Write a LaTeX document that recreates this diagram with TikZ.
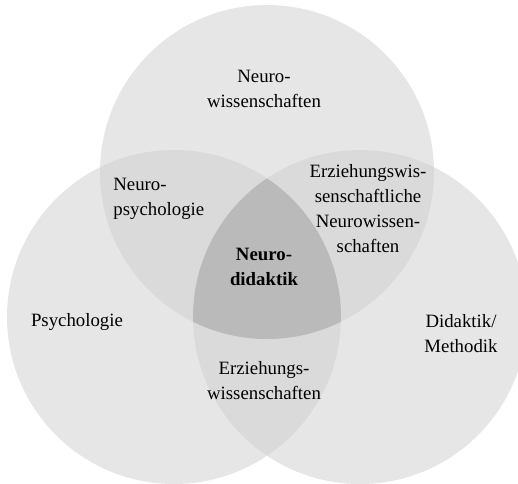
\documentclass[tikz,border=0pt]{standalone}
\usepackage{fontspec}
\setmainfont{Liberation Serif}
\usepackage{tikz}
\usetikzlibrary{positioning}

\definecolor{onegray}{HTML}{E6E6E6}
\definecolor{twogray}{HTML}{DADADA}
\definecolor{threegray}{HTML}{BABABA}

\begin{document}
\begin{tikzpicture}[
    x = .5pt,
    y = -.5pt,
    font = \fontsize{9.4}{12.5}\selectfont,
    venntext/.style = {
      align=center,
      inner sep=0pt,
      text=black
    },
    venncore/.style = {
      venntext,
      font=\fontsize{9.4}{12.5}\selectfont\bfseries
    }
  ]
    \useasboundingbox (0,0) rectangle (518,483);
    \clip (0,0) rectangle (518,483);
    \coordinate (neuro) at (267,172);
    \coordinate (psych) at (174,317);
    \coordinate (didak) at (360,317);
    % single circles
    \fill[onegray] (neuro) circle[radius=167];
    \fill[onegray] (psych) circle[radius=167];
    \fill[onegray] (didak) circle[radius=167];
    % pairwise overlaps
    \begin{scope}
      \clip (neuro) circle[radius=167];
      \fill[twogray] (psych) circle[radius=167];
      \fill[twogray] (didak) circle[radius=167];
    \end{scope}
    \begin{scope}
      \clip (psych) circle[radius=167];
      \fill[twogray] (didak) circle[radius=167];
      \clip (didak) circle[radius=167];
      \fill[threegray] (neuro) circle[radius=167];
    \end{scope}
    % labels
    \node[venntext] (nwiss) at (264,89) {Neuro-\\wissenschaften};
    \node[venntext, align=left, anchor=west] (npsych) at (113,199) {Neuro-\\psychologie};
    \node[venntext] (ewneuro) at (368,209) {Erziehungswis-\\senschaftliche\\Neurowissen-\\schaften};
    \node[venncore] (ndidak) at (264,267) {Neuro-\\didaktik};
    \node[venntext] (psy) at (77,322) {Psychologie};
    \node[venntext] (didmeth) at (461,334) {Didaktik/\\Methodik};
    \node[venntext] (ewiss) at (264,381) {Erziehungs-\\wissenschaften};
\end{tikzpicture}
\end{document}
